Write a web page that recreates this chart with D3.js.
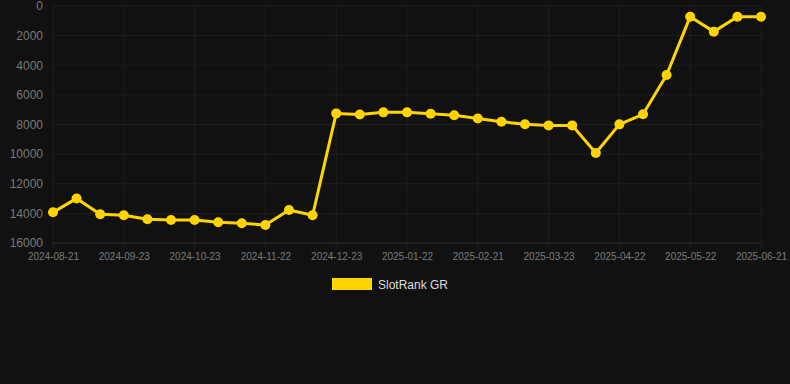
<!DOCTYPE html>
<html>
<head>
<meta charset="utf-8">
<script src="https://cdn.jsdelivr.net/npm/d3@7"></script>
<style>
  html, body { margin: 0; padding: 0; background: #111111; }
  svg { display: block; }
</style>
</head>
<body>
<div id="chart"></div>
<script>
// dates of the rank samples (category axis, every 3rd one labelled)
var dates = ["2024-08-21","2024-09-01","2024-09-12","2024-09-23","2024-10-03","2024-10-13",
    "2024-10-23","2024-11-02","2024-11-12","2024-11-22","2024-12-02","2024-12-12",
    "2024-12-23","2025-01-02","2025-01-12","2025-01-22","2025-02-01","2025-02-11",
    "2025-02-21","2025-03-03","2025-03-13","2025-03-23","2025-04-02","2025-04-12",
    "2025-04-22","2025-05-02","2025-05-12","2025-05-22","2025-06-01","2025-06-11",
    "2025-06-21"];
var rankGR = [13930, 12990, 14060, 14130, 14400, 14450, 14450, 14600, 14670, 14790,
    13770, 14130, 7250, 7330, 7180, 7180, 7270, 7380, 7590, 7810, 7980, 8060, 8060,
    9920, 7990, 7310, 4660, 720, 1730, 720, 720];
var yTicks = [0, 2000, 4000, 6000, 8000, 10000, 12000, 14000, 16000];
var seriesName = "SlotRank GR";

var W = 790, H = 384;
var margin = {top: 6, right: 29, bottom: 141, left: 53};
var width = W - margin.left - margin.right;
var height = H - margin.top - margin.bottom;

var svg = d3.select("#chart").append("svg")
    .attr("width", W)
    .attr("height", H)
    .style("background", "#111111");

var g = svg.append("g")
    .attr("transform", "translate(" + margin.left + "," + margin.top + ")");

var x = d3.scalePoint().domain(dates).range([0, width]);
var y = d3.scaleLinear().domain([0, 16000]).range([0, height]);

var labelled = dates.filter(function(d, i){ return i % 3 === 0; });

// grid
g.selectAll(".hgrid").data(yTicks).enter().append("line")
    .attr("class", "hgrid")
    .attr("x1", 0).attr("x2", width)
    .attr("y1", function(d){ return y(d); })
    .attr("y2", function(d){ return y(d); })
    .attr("stroke", function(d){ return d === 16000 ? "#2e2e2e" : "#1f1f1f"; })
    .attr("stroke-width", 1);

g.selectAll(".vgrid").data(labelled).enter().append("line")
    .attr("class", "vgrid")
    .attr("x1", function(d){ return x(d); })
    .attr("x2", function(d){ return x(d); })
    .attr("y1", 0).attr("y2", height + 7)
    .attr("stroke", "#1f1f1f")
    .attr("stroke-width", 1);

// axes
var yAxis = g.append("g")
    .call(d3.axisLeft(y).tickValues(yTicks).tickSize(0).tickPadding(10).tickFormat(d3.format("d")));
yAxis.select(".domain").remove();
yAxis.selectAll("text")
    .attr("fill", "#7a7a7a")
    .style("font-family", "Helvetica, Arial, sans-serif")
    .style("font-size", "12px");

var xAxis = g.append("g")
    .attr("transform", "translate(0," + height + ")")
    .call(d3.axisBottom(x).tickValues(labelled).tickSize(0).tickPadding(10));
xAxis.select(".domain").remove();
xAxis.selectAll("text")
    .attr("fill", "#7a7a7a")
    .style("font-family", "Helvetica, Arial, sans-serif")
    .style("font-size", "10px");

// line + points
var line = d3.line()
    .x(function(d, i){ return x(dates[i]); })
    .y(function(d){ return y(d); });

g.append("path")
    .datum(rankGR)
    .attr("fill", "none")
    .attr("stroke", "#ffd400")
    .attr("stroke-width", 3)
    .attr("stroke-linejoin", "round")
    .attr("d", line);

g.selectAll(".pt").data(rankGR).enter().append("circle")
    .attr("class", "pt")
    .attr("cx", function(d, i){ return x(dates[i]); })
    .attr("cy", function(d){ return y(d); })
    .attr("r", 5)
    .attr("fill", "#ffd400");

// legend
var legend = svg.append("g").attr("transform", "translate(332,278)");
legend.append("rect")
    .attr("width", 40).attr("height", 12)
    .attr("fill", "#ffd400");
legend.append("text")
    .attr("x", 46).attr("y", 10.5)
    .attr("fill", "#dddddd")
    .style("font-family", "Helvetica, Arial, sans-serif")
    .style("font-size", "12px")
    .text(seriesName);
</script>
</body>
</html>
